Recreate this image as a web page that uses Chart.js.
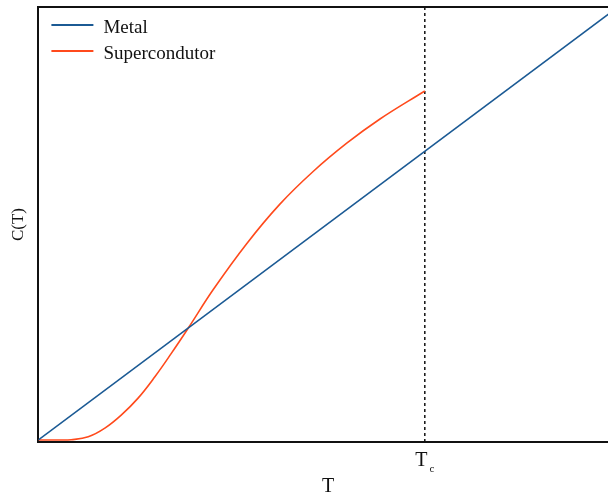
<!DOCTYPE html>
<html>
<head>
<meta charset="utf-8">
<script src="https://cdn.jsdelivr.net/npm/chart.js@4"></script>
<style>
  html, body { margin: 0; padding: 0; background: #fff; overflow: hidden; }
  #wrap { width: 630px; height: 495px; }
</style>
</head>
<body>
<div id="wrap"><canvas id="grafico"></canvas></div>
<script>
// temperatura em unidades de Tc, calor especifico em unidades de gamma*Tc
const temperaturas = [0, 0.05, 0.085, 0.129, 0.172, 0.215, 0.258, 0.302, 0.344, 0.388,
                      0.453, 0.539, 0.625, 0.711, 0.798, 0.884, 1.0];
const calorSuper = [0, 0, 0.001, 0.011, 0.041, 0.087, 0.145, 0.220, 0.300, 0.388,
                    0.522, 0.680, 0.817, 0.930, 1.028, 1.112, 1.209];
const tempMetal = [0, 1.5];
const calorMetal = [0, 1.5];
const tc = 1;
const yMin = -0.007, yMax = 1.5;

const fonte = 'Liberation Serif, Times New Roman, serif';

const pontos = (xs, ys) => xs.map((x, i) => ({ x: x, y: ys[i] }));

// legenda dentro da area do grafico, canto superior esquerdo
const legendaInterna = {
    id: 'legendaInterna',
    afterDraw(chart) {
        const ctx = chart.ctx;
        const area = chart.chartArea;
        ctx.save();
        ctx.font = '19px ' + fonte;
        ctx.textBaseline = 'alphabetic';
        chart.data.datasets.forEach((ds, i) => {
            if (!ds.label) return;
            const y = area.top + 18 + i * 26;
            ctx.strokeStyle = ds.borderColor;
            ctx.lineWidth = 2;
            ctx.beginPath();
            ctx.moveTo(area.left + 13, y);
            ctx.lineTo(area.left + 55, y);
            ctx.stroke();
            ctx.fillStyle = '#111';
            ctx.fillText(ds.label, area.left + 65, y + 8);
        });
        ctx.restore();
    }
};

// moldura superior e rotulo Tc sob o eixo
const molduraTc = {
    id: 'molduraTc',
    afterDraw(chart) {
        const ctx = chart.ctx;
        const area = chart.chartArea;
        ctx.save();
        ctx.strokeStyle = '#111';
        ctx.lineWidth = 2;
        ctx.beginPath();
        ctx.moveTo(area.left - 1, area.top);
        ctx.lineTo(area.right, area.top);
        ctx.stroke();

        const px = chart.scales.x.getPixelForValue(tc);
        ctx.fillStyle = '#111';
        ctx.font = '20px ' + fonte;
        const wT = ctx.measureText('T').width;
        ctx.font = '11px ' + fonte;
        const wc = ctx.measureText('c').width;
        const x0 = px - (wT + wc + 2) / 2;
        ctx.font = '20px ' + fonte;
        ctx.fillText('T', x0, area.bottom + 24);
        ctx.font = '11px ' + fonte;
        ctx.fillText('c', x0 + wT + 2, area.bottom + 30);
        ctx.restore();
    }
};

new Chart(document.getElementById('grafico'), {
    type: 'line',
    data: {
        datasets: [{
            label: 'Metal',
            data: pontos(tempMetal, calorMetal),
            borderColor: '#1b5a94',
            borderWidth: 1.6,
            pointRadius: 0
        }, {
            label: 'Supercondutor',
            data: pontos(temperaturas, calorSuper),
            borderColor: '#ff4a1c',
            borderWidth: 1.6,
            pointRadius: 0,
            tension: 0.4
        }, {
            label: '',
            data: [{ x: tc, y: yMin }, { x: tc, y: yMax }],
            borderColor: '#111',
            borderWidth: 1.5,
            borderDash: [3, 3],
            pointRadius: 0
        }]
    },
    options: {
        responsive: true,
        maintainAspectRatio: false,
        animation: false,
        layout: { padding: { left: 4, top: 7, right: 12, bottom: 0 } },
        plugins: {
            legend: { display: false },
            tooltip: { enabled: false }
        },
        scales: {
            x: {
                type: 'linear',
                min: 0,
                max: 1.5,
                grid: { display: false, drawTicks: false },
                border: { display: true, color: '#111', width: 2 },
                ticks: { display: false },
                title: {
                    display: true,
                    text: 'T',
                    color: '#111',
                    font: { family: fonte, size: 20, lineHeight: 0.8 },
                    padding: { top: 37, bottom: 0 }
                }
            },
            y: {
                min: yMin,
                max: yMax,
                grid: { display: false, drawTicks: false },
                border: { display: true, color: '#111', width: 2 },
                ticks: { display: false },
                title: {
                    display: true,
                    text: 'C(T)',
                    color: '#111',
                    font: { family: fonte, size: 17 },
                    padding: { top: 4, bottom: 10 }
                }
            }
        }
    },
    plugins: [legendaInterna, molduraTc]
});
</script>
</body>
</html>
